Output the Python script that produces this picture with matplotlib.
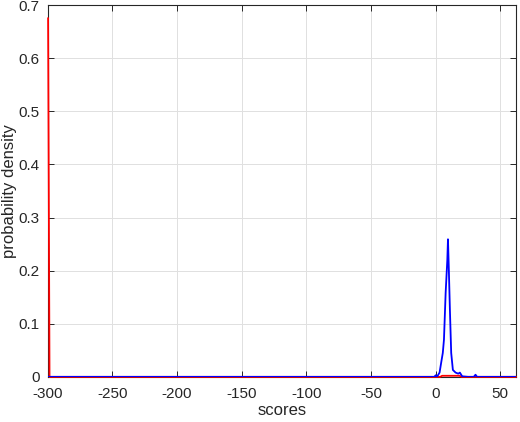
import matplotlib
matplotlib.use("Agg")
import matplotlib.pyplot as plt
import numpy as np

plt.rcParams['font.family'] = ['Liberation Sans', 'DejaVu Sans']
plt.rcParams['axes.unicode_minus'] = False

# score axis samples and densities
blue_x = [-300, -200, -100, -10, -1, 0, 0.5, 1.5, 3, 4.4, 5.5, 6.4, 7.7, 9.0, 9.5,
          10.2, 11.0, 12.0, 13.3, 15.4, 17.5, 18.7, 20.5, 25, 29.5, 30.8, 32, 45, 62]
blue_y = [0.0, 0.0, 0.0, 0.0, 0.0, 0.003, 0.0, 0.002, 0.008, 0.029, 0.045, 0.07, 0.158, 0.22, 0.259,
          0.2, 0.126, 0.045, 0.013, 0.008, 0.006, 0.008, 0.001, 0.0, 0.0, 0.004, 0.0, 0.0, 0.0]

red_x = [-299.8, -298.7, -250, -100, 0, 3.5, 5, 10, 15, 18.5, 20, 62]
red_y = [0.675, 0.0, 0.0, 0.0, 0.0, 0.0, 0.002, 0.002, 0.002, 0.002, 0.0, 0.0]

xticks = [-300, -250, -200, -150, -100, -50, 0, 50]
yticks = [0, 0.1, 0.2, 0.3, 0.4, 0.5, 0.6, 0.7]

fig = plt.figure(figsize=(5.2, 4.22), dpi=100)
ax = fig.add_axes([0.092, 0.107, 0.9, 0.881])

ax.plot(red_x, red_y, color=(1, 0, 0), lw=1.3, zorder=3, clip_on=False)
ax.plot(blue_x, blue_y, color=(0, 0, 1), lw=1.3, zorder=4)

ax.set_xlim(-300, 62)
ax.set_ylim(0, 0.7)
ax.set_xticks(xticks)
ax.set_yticks(yticks)
ax.set_yticklabels(["0", "0.1", "0.2", "0.3", "0.4", "0.5", "0.6", "0.7"])
ax.grid(True, color=(0.88, 0.88, 0.88), lw=0.7)
ax.set_axisbelow(True)
ax.tick_params(direction='in', length=4, top=True, right=True, labelsize=11,
               colors=(0.15, 0.15, 0.15), labelcolor=(0.15, 0.15, 0.15), width=0.7)
ax.tick_params(axis='x', pad=7)
ax.tick_params(axis='y', pad=6)
for s in ax.spines.values():
    s.set_color((0.15, 0.15, 0.15))
    s.set_linewidth(0.8)

ax.set_xlabel("scores", fontsize=12, color=(0.15, 0.15, 0.15), labelpad=2)
ax.set_ylabel("probability density", fontsize=12, color=(0.15, 0.15, 0.15))
ax.yaxis.set_label_coords(-0.066, 0.5)

fig.savefig("out.png", dpi=100)
